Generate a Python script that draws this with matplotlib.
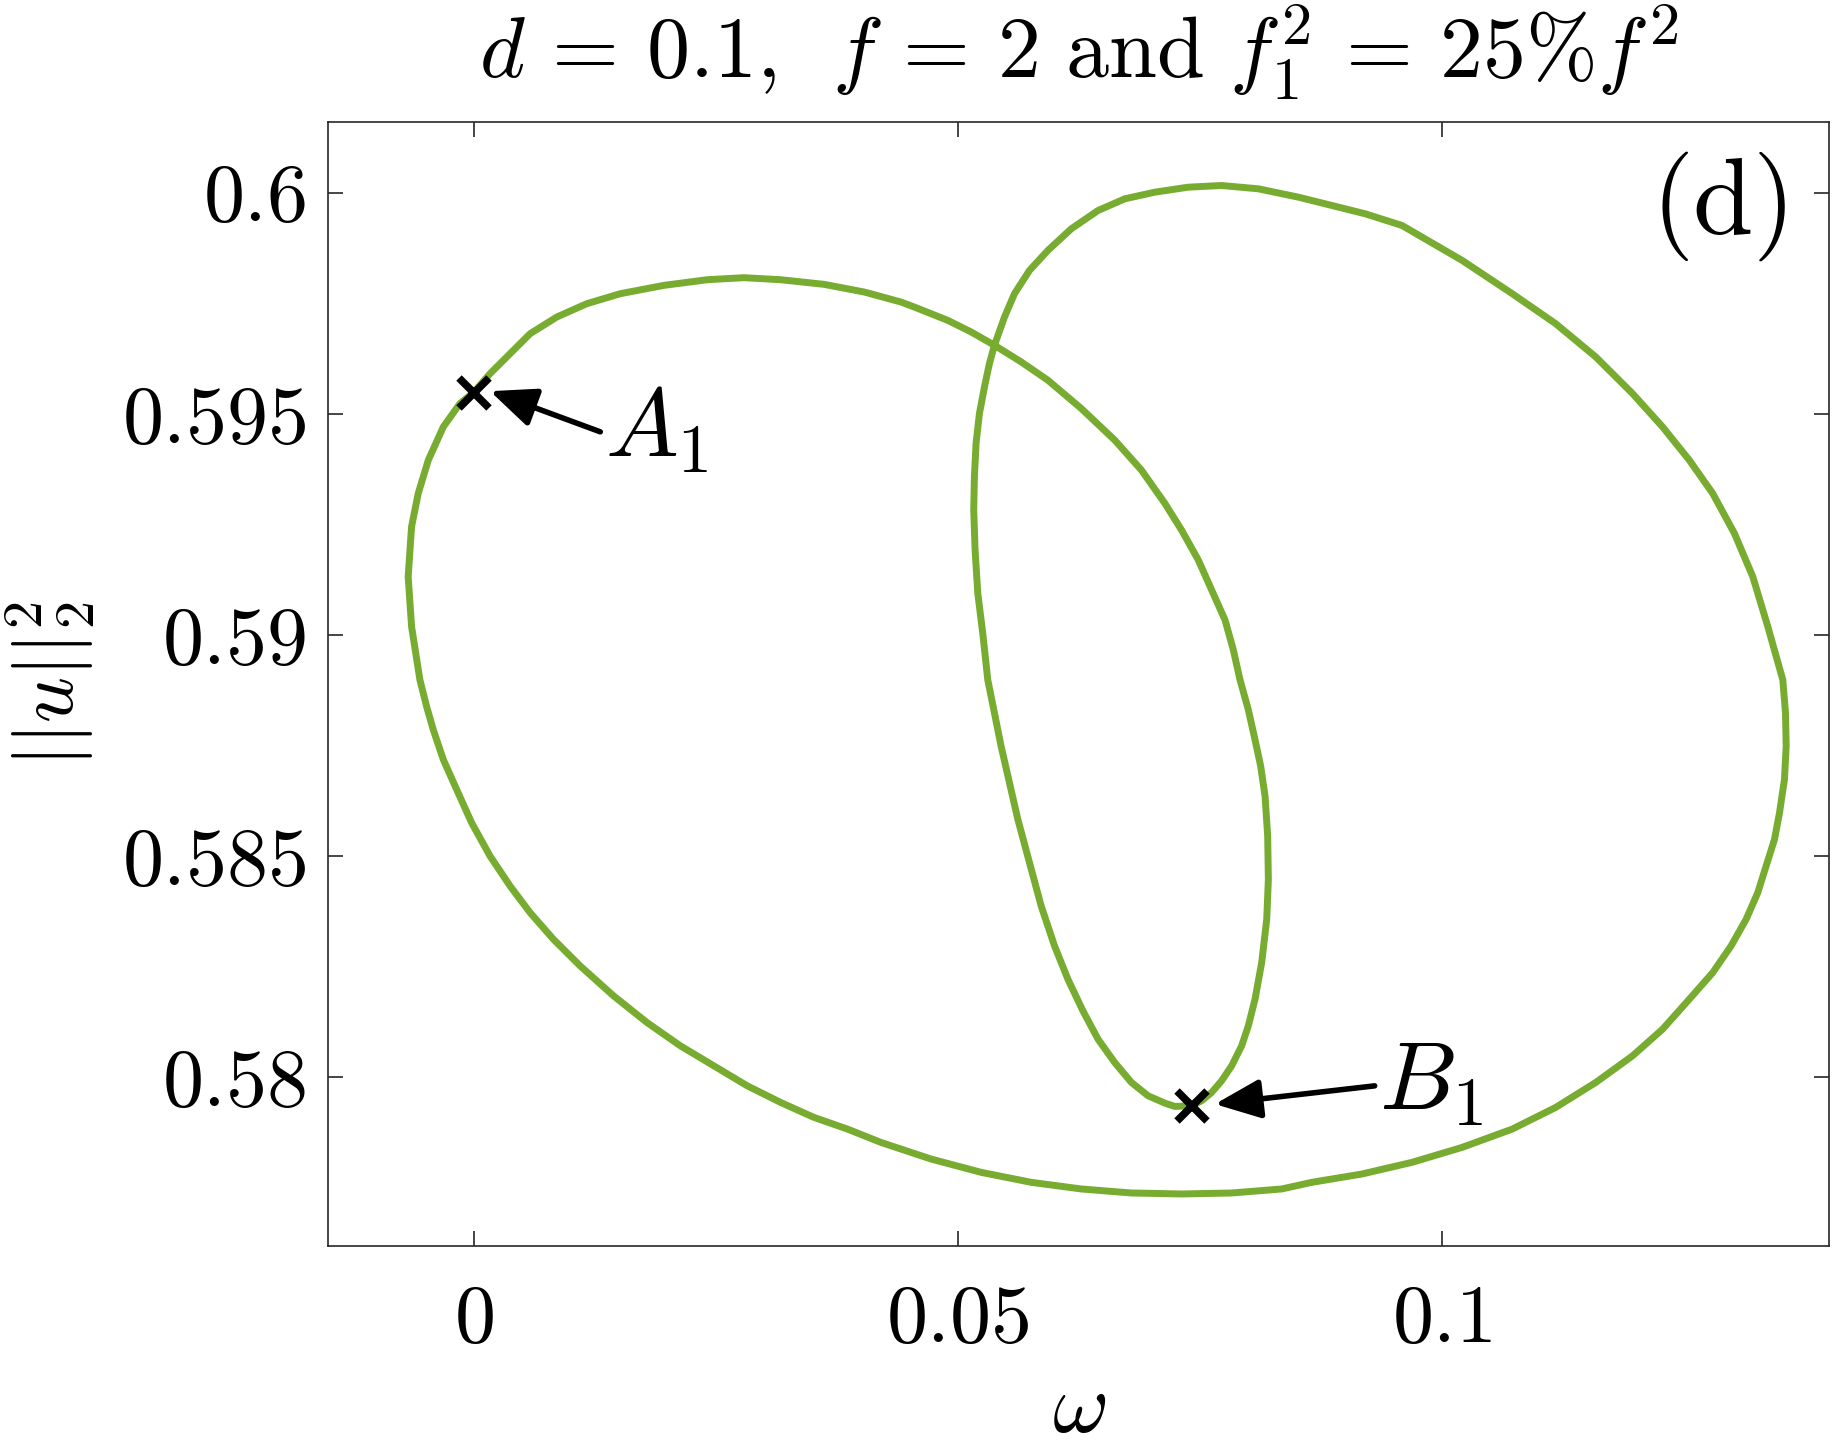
import numpy as np
import matplotlib
matplotlib.use("Agg")
import matplotlib.pyplot as plt

plt.rcParams['mathtext.fontset'] = 'cm'
plt.rcParams['font.family'] = 'serif'
plt.rcParams['font.serif'] = ['cmr10', 'DejaVu Serif']
plt.rcParams['axes.formatter.use_mathtext'] = True

# closed solution branch (omega, ||u||_2^2)
# starts at A1, over the left lobe, down to B1, up and round the right lobe, back to A1
omega = [0.0, 0.00171, 0.00378, 0.00585, 0.00861, 0.01171, 0.01516, 0.01965,
         0.02413, 0.02793, 0.03172, 0.03621, 0.04035, 0.04414,
         0.04552, 0.04897, 0.05139, 0.05380, 0.05656, 0.05932, 0.06277, 0.06622,
         0.06898, 0.07140, 0.07312, 0.07485, 0.07623, 0.07761, 0.07847, 0.07916,
         0.08002, 0.08071, 0.08130, 0.08175, 0.08202, 0.08209, 0.08192, 0.08140,
         0.08071, 0.08002, 0.07933, 0.07830, 0.07726, 0.07623, 0.07519, 0.07416,
         0.07243, 0.07140, 0.06967, 0.06795, 0.06622, 0.06450, 0.06294, 0.06139,
         0.06001, 0.05863, 0.05742, 0.05622, 0.05535, 0.05449, 0.05380, 0.05311,
         0.05259, 0.05208, 0.05180, 0.05166, 0.05173, 0.05190, 0.05225, 0.05277,
         0.05328, 0.05380, 0.05484, 0.05587, 0.05742, 0.05932, 0.06174, 0.06450,
         0.06726, 0.07036, 0.07381, 0.07726, 0.08106, 0.08520, 0.08865, 0.09210,
         0.09589, 0.10210, 0.10728, 0.11176, 0.11590, 0.11970, 0.12280, 0.12556,
         0.12798, 0.13022, 0.13212, 0.13367,
         0.13522, 0.13550, 0.13557, 0.13539, 0.13488, 0.13436, 0.13350, 0.13263,
         0.13143, 0.12987, 0.12798, 0.12556, 0.12280, 0.11970, 0.11590, 0.11176,
         0.10728, 0.10210, 0.09693, 0.09175, 0.08658,
         0.08347, 0.07830, 0.07312, 0.06795, 0.06277, 0.05760, 0.05242, 0.04725,
         0.04207, 0.03862, 0.03517, 0.03172, 0.02827, 0.02482, 0.02137, 0.01792,
         0.01447, 0.01102, 0.00826, 0.00585, 0.00378, 0.00171, -0.00019, -0.00174,
         -0.00312, -0.00416, -0.00485, -0.00554, -0.00640, -0.00675, -0.00640,
         -0.00571, -0.00467, -0.00312, -0.00140, 0.0]
norm2 = [0.595485, 0.595913, 0.596365, 0.596816, 0.597193, 0.597494, 0.597719, 0.597907,
         0.598035, 0.598081, 0.598035, 0.597930, 0.597757, 0.597531,
         0.597418, 0.597117, 0.596854, 0.596553, 0.596177, 0.595763, 0.595123, 0.594409,
         0.593731, 0.592979, 0.592377, 0.591700, 0.591023, 0.590345, 0.589668, 0.588991,
         0.588314, 0.587637, 0.587035, 0.586357, 0.585454, 0.584476, 0.583573, 0.582595,
         0.581767, 0.581166, 0.580714, 0.580263, 0.579924, 0.579661, 0.579472, 0.579360,
         0.579345, 0.579420, 0.579585, 0.579886, 0.580338, 0.580865, 0.581504, 0.582219,
         0.582971, 0.583874, 0.584852, 0.585831, 0.586658, 0.587486, 0.588239, 0.588991,
         0.590044, 0.590947, 0.591926, 0.592828, 0.593581, 0.594333, 0.595011, 0.595612,
         0.596139, 0.596553, 0.597193, 0.597719, 0.598246, 0.598698, 0.599187, 0.599600,
         0.599864, 0.600014, 0.600127, 0.600165, 0.600090, 0.599901, 0.599713, 0.599525,
         0.599262, 0.598472, 0.597719, 0.597042, 0.596290, 0.595462, 0.594709, 0.593957,
         0.593205, 0.592302, 0.591323, 0.590195,
         0.588991, 0.588239, 0.587486, 0.586734, 0.585981, 0.585379, 0.584777, 0.584175,
         0.583573, 0.582971, 0.582369, 0.581767, 0.581090, 0.580488, 0.579886, 0.579322,
         0.578833, 0.578419, 0.578081, 0.577817, 0.577629,
         0.577479, 0.577388, 0.577366, 0.577388, 0.577479, 0.577629, 0.577855, 0.578156,
         0.578532, 0.578833, 0.579096, 0.579435, 0.579811, 0.580263, 0.580714, 0.581241,
         0.581843, 0.582520, 0.583122, 0.583724, 0.584326, 0.585003, 0.585755, 0.586508,
         0.587185, 0.587862, 0.588389, 0.588991, 0.590195, 0.591323, 0.592452,
         0.593205, 0.593957, 0.594709, 0.595236, 0.595485]

pt_A1 = (0.0, 0.595485)
pt_B1 = (0.07416, 0.579360)

xticks = [0, 0.05, 0.1]
xtick_labels = [r'$0$', r'$0.05$', r'$0.1$']
yticks = [0.58, 0.585, 0.59, 0.595, 0.6]
ytick_labels = [r'$0.58$', r'$0.585$', r'$0.59$', r'$0.595$', r'$0.6$']

fig = plt.figure(figsize=(18.32, 14.51), dpi=100)
ax = fig.add_axes([0.1792, 0.1416, 0.8192, 0.7743])

ax.plot(omega, norm2, color='#77AC30', lw=5, solid_joinstyle='round')
ax.plot(*pt_A1, marker='x', color='k', ms=22, mew=5.5)
ax.plot(*pt_B1, marker='x', color='k', ms=22, mew=5.5)

arrow = dict(arrowstyle='-|>,head_length=1.4,head_width=0.6', color='k', lw=4,
             shrinkA=0, shrinkB=0, mutation_scale=20)
ax.annotate('', xy=(0.00171, 0.595515), xytext=(0.01309, 0.594596), arrowprops=arrow)
ax.annotate('', xy=(0.07657, 0.579397), xytext=(0.09307, 0.579810), arrowprops=arrow)
ax.text(0.01361, 0.594031, r'$A_1$', fontsize=70, ha='left', va='baseline')
ax.text(0.09348, 0.579284, r'$B_1$', fontsize=70, ha='left', va='baseline')

ax.text(0.978, 0.925, '(d)', transform=ax.transAxes, fontsize=78, ha='right', va='center')

ax.set_xlim(-0.015, 0.14)
ax.set_ylim(0.5762, 0.6016)
ax.set_xticks(xticks)
ax.set_xticklabels(xtick_labels)
ax.set_yticks(yticks)
ax.set_yticklabels(ytick_labels)
ax.tick_params(direction='in', length=11, width=1.2, labelsize=59, top=True, right=True,
               color='#262626', pad=16)
ax.tick_params(axis='x', pad=28)
for s in ax.spines.values():
    s.set_linewidth(1.2)
    s.set_color('#262626')

ax.set_title(r'$d\,=\,0.1,\ \,f\,=\,2\ \mathrm{and}\ f_1^2\,=\,25\%f^2$', fontsize=62, pad=32)
ax.set_xlabel(r'$\omega$', fontsize=62, labelpad=10)
ax.set_ylabel(r'$||u||_2^2$', fontsize=58, labelpad=18)

fig.savefig('out.png', dpi=100)
